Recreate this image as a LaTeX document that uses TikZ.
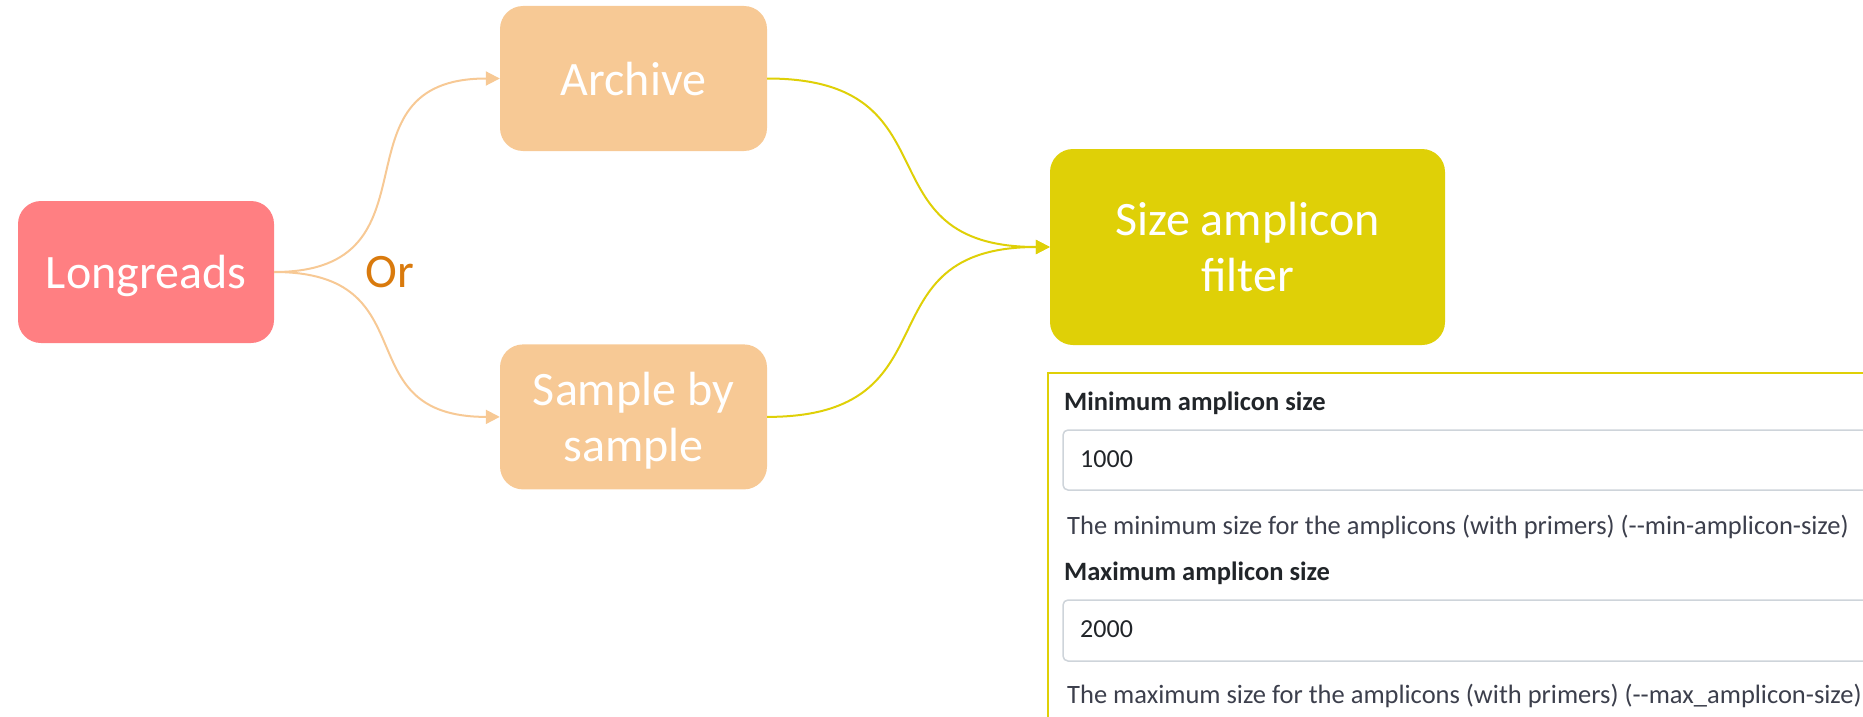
\documentclass[tikz,border=0pt]{standalone}
\usepackage{fontspec}
\setmainfont{Carlito}
\usetikzlibrary{arrows.meta,positioning}
\definecolor{readsred}{HTML}{FF7F82}
\definecolor{peach}{HTML}{F7C995}
\definecolor{mustard}{HTML}{DFD007}
\definecolor{ortext}{HTML}{D97A0D}
\definecolor{fieldgray}{HTML}{CED4DA}
\definecolor{labeldark}{HTML}{212529}
\definecolor{helpgray}{HTML}{3C3F4C}

\begin{document}
\begin{tikzpicture}[
    x=1pt, y=-1pt,
    box/.style={rounded corners=23pt, minimum width=267pt, minimum height=145pt, align=center, inner sep=0pt, text depth=0pt, text=white, font=\fontsize{48}{56}\selectfont},
    flowarrow/.style={-{Triangle[length=14pt,width=14pt]}, line width=2pt},
    field/.style={draw=fieldgray, line width=1.5pt, rounded corners=5pt},
    formlabel/.style={anchor=base west, inner sep=0pt, text=labeldark, font=\bfseries\fontsize{26.5}{30}\selectfont},
    formvalue/.style={anchor=base west, inner sep=0pt, text=labeldark, font=\fontsize{26}{30}\selectfont},
    formhelp/.style={anchor=base west, inner sep=0pt, text=helpgray, font=\fontsize{26.5}{30}\selectfont}
]
\clip (0,0) rectangle (1863,717);

% flow boxes
\node[box, fill=readsred, minimum width=256pt, minimum height=142pt] (reads) at (146,272) {Longreads};
\node[box, fill=peach] (archive) at (633.5,78.5) {Archive};
\node[box, fill=peach, below=193pt of archive] (persample) {Sample by\\sample};
\node[box, fill=mustard, minimum width=395pt, minimum height=196pt] (sizefilter) at (1247.5,247) {Size amplicon\\filter};
\node[text=ortext, font=\fontsize{48}{56}\selectfont] (ortag) at (390,272) {Or};

\draw[flowarrow, peach] (reads.east) to[out=0, in=180, looseness=1.5] (archive.west);
\draw[flowarrow, peach] (reads.east) to[out=0, in=180, looseness=1.5] (persample.west);
\draw[flowarrow, mustard] (archive.east) to[out=0, in=180, looseness=1.5] (sizefilter.west);
\draw[flowarrow, mustard] (persample.east) to[out=0, in=180, looseness=1.5] (sizefilter.west);

% parameter form
\draw[mustard, line width=2pt] (1900,373) -- (1048,373) -- (1048,760);
\draw[field] (1063,430) rectangle (1900,490);
\draw[field] (1063,600) rectangle (1900,661);
\node[formlabel] (minlabel) at (1064,410) {Minimum amplicon size};
\node[formvalue] (minvalue) at (1080,467) {1000};
\node[formhelp] (minhelp) at (1067,534) {The minimum size for the amplicons (with primers) ({-}{-}min-amplicon-size)};
\node[formlabel] (maxlabel) at (1064,580) {Maximum amplicon size};
\node[formvalue] (maxvalue) at (1080,637) {2000};
\node[formhelp] (maxhelp) at (1067,703) {The maximum size for the amplicons (with primers) ({-}{-}max\_amplicon-size)};
\end{tikzpicture}
\end{document}
